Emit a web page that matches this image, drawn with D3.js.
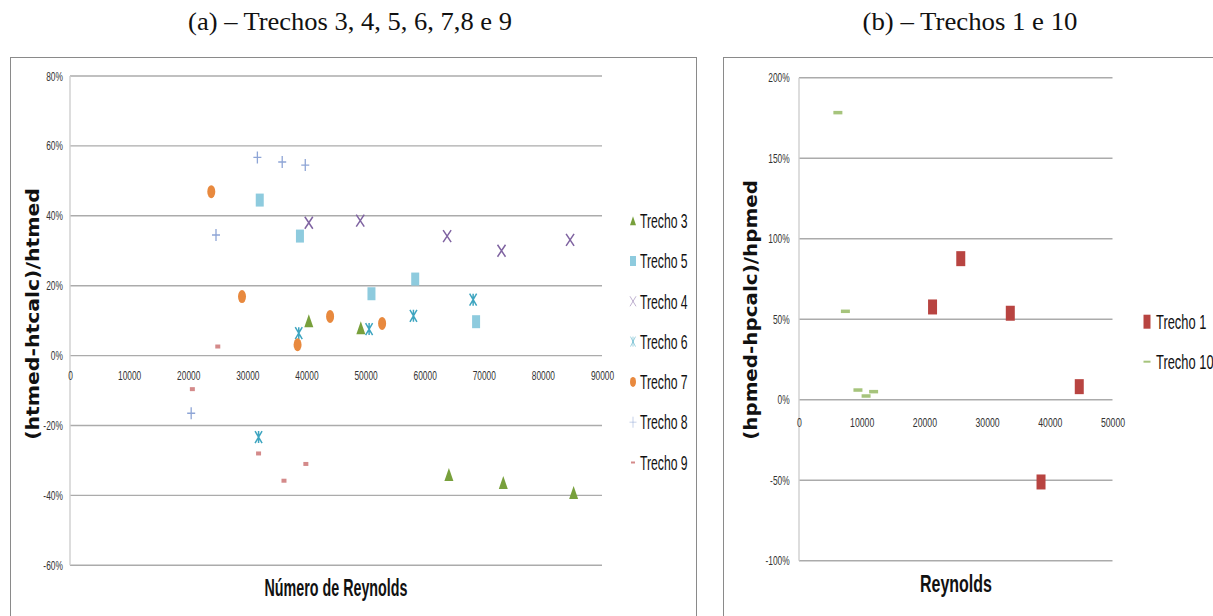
<!DOCTYPE html>
<html>
<head>
<meta charset="utf-8">
<script src="https://cdn.jsdelivr.net/npm/d3@7"></script>
<style>
  body { margin: 0; background: #fff; }
  svg { display: block; }
</style>
</head>
<body>
<svg id="chart" width="1213" height="616"></svg>
<script>
// ---- Panel (a): reaches 3 to 9 ----
const trecho3X = [40400, 49200, 64100, 73300, 85200];
const trecho3Y = [0.10, 0.08, -0.34, -0.363, -0.392];
const trecho5X = [32100, 38900, 51000, 58400, 68700];
const trecho5Y = [0.445, 0.342, 0.177, 0.219, 0.097];
const trecho4X = [40400, 49100, 63800, 73000, 84600];
const trecho4Y = [0.38, 0.386, 0.342, 0.30, 0.331];
const trecho6X = [31900, 38700, 50600, 58100, 68200];
const trecho6Y = [-0.233, 0.064, 0.076, 0.114, 0.16];
const trecho7X = [23900, 29100, 38500, 44000, 52800];
const trecho7Y = [0.469, 0.169, 0.031, 0.112, 0.092];
const trecho8X = [20500, 24700, 31700, 35900, 39800];
const trecho8Y = [-0.165, 0.345, 0.567, 0.554, 0.545];
const trecho9X = [20700, 25000, 31900, 36200, 39900];
const trecho9Y = [-0.096, 0.026, -0.28, -0.358, -0.31];

// ---- Panel (b): reaches 1 and 10 ----
const trecho1X = [21300, 25800, 33700, 38600, 44700];
const trecho1Y = [0.576, 0.876, 0.537, -0.511, 0.081];
const trecho10X = [6200, 7400, 9400, 10700, 11900];
const trecho10Y = [1.783, 0.549, 0.06, 0.023, 0.05];

// ---- Axis ticks and labels ----
const leftXTicks = [0, 10000, 20000, 30000, 40000, 50000, 60000, 70000, 80000, 90000];
const leftYTicks = [-0.6, -0.4, -0.2, 0, 0.2, 0.4, 0.6, 0.8];
const rightXTicks = [0, 10000, 20000, 30000, 40000, 50000];
const rightYTicks = [-1, -0.5, 0, 0.5, 1, 1.5, 2];

const titleA = "(a) – Trechos 3, 4, 5, 6, 7,8 e 9";
const titleB = "(b) – Trechos 1 e 10";
const yTitleA = "(htmed-htcalc)/htmed";
const yTitleB = "(hpmed-hpcalc)/hpmed";
const xTitleA = "Número de Reynolds";
const xTitleB = "Reynolds";

const svg = d3.select("#chart");
const SANS = "'Liberation Sans', Arial, sans-serif";

// Marker path builders (width w, height h, centred on 0,0)
const shapes = {
  triangle: (w, h) => `M0,${-h/2}L${w/2},${h/2}L${-w/2},${h/2}Z`,
  rect: (w, h) => `M${-w/2},${-h/2}H${w/2}V${h/2}H${-w/2}Z`,
  ellipse: (w, h) => `M${-w/2},0A${w/2},${h/2} 0 1,0 ${w/2},0A${w/2},${h/2} 0 1,0 ${-w/2},0Z`,
  cross: (w, h) => `M${-w/2},${-h/2}L${w/2},${h/2}M${w/2},${-h/2}L${-w/2},${h/2}`,
  star: (w, h) => `M${-w/2},${-h/2}L${w/2},${h/2}M${w/2},${-h/2}L${-w/2},${h/2}M0,${-h/2}V${h/2}`,
  plus: (w, h) => `M${-w/2},0H${w/2}M0,${-h/2}V${h/2}`
};
const filled = { triangle: true, rect: true, ellipse: true, cross: false, star: false, plus: false };

function marker(parent, shape, w, h, color, sw, opacity) {
  const p = parent.append("path").attr("d", shapes[shape](w, h));
  if (filled[shape]) p.attr("fill", color).attr("stroke", "none");
  else p.attr("fill", "none").attr("stroke", color).attr("stroke-width", sw || 1.5);
  if (opacity != null) p.attr("opacity", opacity);
  return p;
}

// Text with horizontal scaling; if a width is given the text is squeezed/stretched to it
function label(parent, x, y, str, o) {
  const g = parent.append("g").attr("transform", `translate(${x},${y}) rotate(${o.rotate || 0})`);
  const t = g.append("text")
    .attr("font-family", o.family || SANS)
    .attr("font-size", o.size || 12)
    .attr("font-weight", o.weight || "normal")
    .attr("text-anchor", o.anchor || "start")
    .attr("fill", o.fill || "#000")
    .text(str);
  let sx = o.sx || 1;
  if (o.width) sx = o.width / t.node().getComputedTextLength();
  t.attr("transform", `scale(${sx},1)`);
  return t;
}

const pct = d => Math.round(d * 100) + "%";

function panel(cfg) {
  const g = svg.append("g");
  // outer frame
  g.append("rect").attr("x", cfg.frame[0] + 0.5).attr("y", cfg.frame[1] + 0.5)
    .attr("width", cfg.frame[2]).attr("height", cfg.frame[3])
    .attr("fill", "#fff").attr("stroke", "#8a8a8a").attr("stroke-width", 1);

  const x = d3.scaleLinear().domain(cfg.xDomain).range(cfg.xRange);
  const y = d3.scaleLinear().domain(cfg.yDomain).range(cfg.yRange);

  // horizontal gridlines
  g.append("g").selectAll("line").data(cfg.yTicks).join("line")
    .attr("x1", cfg.xRange[0]).attr("x2", cfg.xRange[1])
    .attr("y1", d => y(d)).attr("y2", d => y(d))
    .attr("stroke", "#ababab").attr("stroke-width", 1.4);
  // vertical axis line
  g.append("line").attr("x1", cfg.xRange[0]).attr("x2", cfg.xRange[0])
    .attr("y1", y(cfg.yDomain[0])).attr("y2", y(cfg.yDomain[1]))
    .attr("stroke", "#cfcfcf").attr("stroke-width", 1.4);

  // y axis labels
  const ya = g.append("g").attr("transform", `translate(${cfg.xRange[0]},0)`)
    .call(d3.axisLeft(y).tickValues(cfg.yTicks).tickFormat(pct).tickSize(0).tickPadding(cfg.yPad));
  ya.select(".domain").remove();
  ya.selectAll("text").attr("font-family", SANS).attr("font-size", 12.5)
    .attr("fill", "#333").attr("transform", `scale(${cfg.tickSx},1)`);

  // x axis labels, crossing at 0
  const xa = g.append("g").attr("transform", `translate(0,${y(0)})`)
    .call(d3.axisBottom(x).tickValues(cfg.xTicks).tickFormat(d => String(d)).tickSize(0).tickPadding(cfg.xPad));
  xa.select(".domain").remove();
  xa.selectAll("text").attr("font-family", SANS).attr("font-size", cfg.xTickSize)
    .attr("fill", "#333").attr("transform", `scale(${cfg.tickSx},1)`);

  // series
  cfg.series.forEach(s => {
    const pts = s.xs.map((v, i) => [v, s.ys[i]]);
    const sg = g.append("g");
    pts.forEach(p => {
      const m = marker(sg, s.shape, s.w, s.h, s.color, s.sw);
      m.attr("transform", `translate(${x(p[0])},${y(p[1])})`);
    });
  });

  // legend
  cfg.series.forEach((s, i) => {
    const cy = cfg.legend.y0 + i * cfg.legend.dy;
    const lg = g.append("g");
    marker(lg, s.shape, s.lw, s.lh, s.color, 1, filled[s.shape] ? null : 0.5)
      .attr("transform", `translate(${cfg.legend.mx},${cy})`);
    label(lg, cfg.legend.tx, cy + 7.2, s.name, { size: 20, sx: cfg.legend.sx, fill: "#111" });
  });

  // titles
  label(g, cfg.xTitle.x, cfg.xTitle.y, cfg.xTitle.text,
    { size: 24, weight: "bold", anchor: "middle", width: cfg.xTitle.w, fill: "#111" });
  label(g, cfg.yTitle.x, cfg.yTitle.y, cfg.yTitle.text,
    { size: 17, weight: "bold", anchor: "middle", rotate: -90, width: cfg.yTitle.w,
      family: "'DejaVu Sans', Verdana, sans-serif", fill: "#111" });
  label(svg, cfg.head.x, cfg.head.y, cfg.head.text,
    { size: 25, anchor: "middle", width: cfg.head.w, family: "'Liberation Serif', 'Times New Roman', serif", fill: "#111" });
}

panel({
  frame: [10, 57, 686, 580],
  xDomain: [0, 90000], xRange: [70, 602],
  yDomain: [-0.6, 0.8], yRange: [565.3, 76],
  xTicks: leftXTicks, yTicks: leftYTicks,
  yPad: 10.6, xPad: 16, xTickSize: 12.5, tickSx: 0.67,
  series: [
    { name: "Trecho 3", xs: trecho3X, ys: trecho3Y, shape: "triangle", color: "#78a03c", w: 9, h: 13, lw: 6, lh: 9 },
    { name: "Trecho 5", xs: trecho5X, ys: trecho5Y, shape: "rect", color: "#8ecbde", w: 8, h: 13, lw: 6, lh: 10 },
    { name: "Trecho 4", xs: trecho4X, ys: trecho4Y, shape: "cross", color: "#7f63a1", w: 8, h: 12, sw: 1.5, lw: 6, lh: 10 },
    { name: "Trecho 6", xs: trecho6X, ys: trecho6Y, shape: "star", color: "#3ea5c0", w: 7, h: 12, sw: 1.5, lw: 5, lh: 10 },
    { name: "Trecho 7", xs: trecho7X, ys: trecho7Y, shape: "ellipse", color: "#e8893e", w: 8, h: 13, lw: 6, lh: 10 },
    { name: "Trecho 8", xs: trecho8X, ys: trecho8Y, shape: "plus", color: "#8ea5d6", w: 8, h: 12, sw: 1.3, lw: 7, lh: 11 },
    { name: "Trecho 9", xs: trecho9X, ys: trecho9Y, shape: "rect", color: "#d48a8a", w: 5, h: 4, lw: 4, lh: 2 }
  ],
  legend: { mx: 633, tx: 640, y0: 220.7, dy: 40.3, sx: 0.61 },
  xTitle: { text: xTitleA, x: 336, y: 595.7, w: 143 },
  yTitle: { text: yTitleA, x: 39, y: 314, w: 252 },
  head: { text: titleA, x: 350, y: 30, w: 324 }
});

panel({
  frame: [723, 57, 520, 580],
  xDomain: [0, 50000], xRange: [799, 1112.5],
  yDomain: [-1, 2], yRange: [560.7, 77.7],
  xTicks: rightXTicks, yTicks: rightYTicks,
  yPad: 14, xPad: 18.3, xTickSize: 13, tickSx: 0.67,
  series: [
    { name: "Trecho 1", xs: trecho1X, ys: trecho1Y, shape: "rect", color: "#b84441", w: 9, h: 15, lw: 7, lh: 14 },
    { name: "Trecho 10", xs: trecho10X, ys: trecho10Y, shape: "rect", color: "#a6c47c", w: 9, h: 3.5, lw: 7, lh: 2 }
  ],
  legend: { mx: 1147, tx: 1156, y0: 321.7, dy: 40, sx: 0.645 },
  xTitle: { text: xTitleB, x: 956, y: 592.3, w: 72 },
  yTitle: { text: yTitleB, x: 757, y: 310, w: 260 },
  head: { text: titleB, x: 970, y: 30, w: 215 }
});
</script>
</body>
</html>
